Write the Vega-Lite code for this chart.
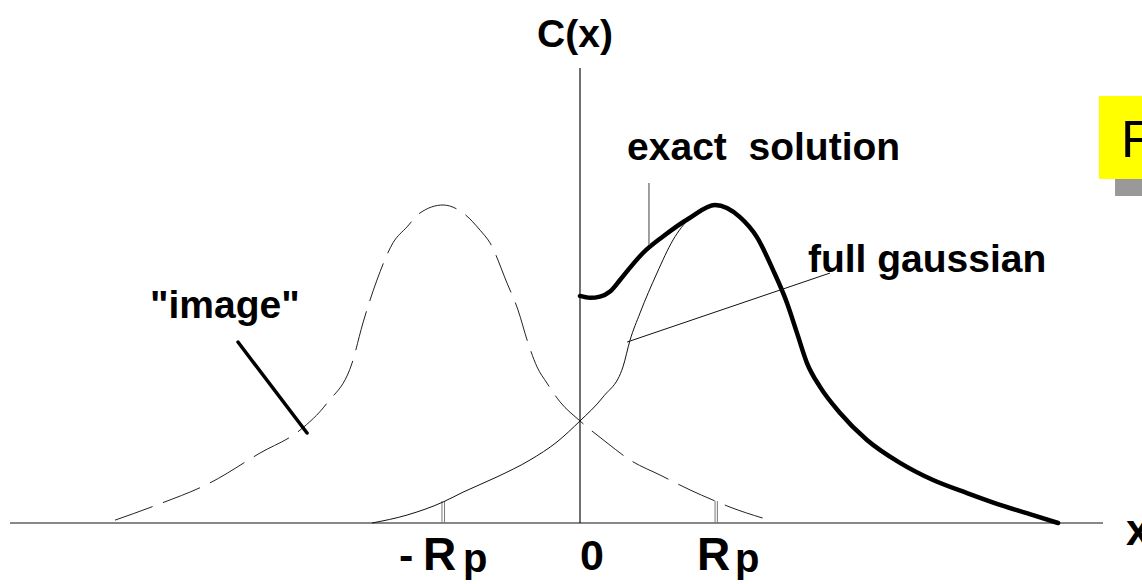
{
  "$schema": "https://vega.github.io/schema/vega-lite/v6.json",
  "width": 1142,
  "height": 584,
  "padding": 0,
  "autosize": {"type": "none"},
  "background": "white",
  "config": {"view": {"stroke": null}},
  "datasets": {
    "imageGauss": [
      {"x": -3.419, "y": 0.009}, {"x": -3.110, "y": 0.057}, {"x": -2.721, "y": 0.126},
      {"x": -2.353, "y": 0.220}, {"x": -2.059, "y": 0.292}, {"x": -1.860, "y": 0.377},
      {"x": -1.676, "y": 0.503}, {"x": -1.596, "y": 0.629}, {"x": -1.493, "y": 0.764},
      {"x": -1.375, "y": 0.881}, {"x": -1.272, "y": 0.931}, {"x": -1.176, "y": 0.975},
      {"x": -1.007, "y": 1.000}, {"x": -0.860, "y": 0.975}, {"x": -0.735, "y": 0.921},
      {"x": -0.662, "y": 0.881}, {"x": -0.537, "y": 0.755}, {"x": -0.456, "y": 0.670},
      {"x": -0.382, "y": 0.566}, {"x": -0.316, "y": 0.491}, {"x": -0.243, "y": 0.440},
      {"x": -0.147, "y": 0.381}, {"x": 0.000, "y": 0.321}, {"x": 0.199, "y": 0.252},
      {"x": 0.368, "y": 0.198}, {"x": 0.588, "y": 0.151}, {"x": 0.809, "y": 0.104},
      {"x": 0.978, "y": 0.072}, {"x": 1.103, "y": 0.050}, {"x": 1.419, "y": 0.006}
    ],
    "fullGauss": [
      {"x": -1.529, "y": 0.000}, {"x": -1.272, "y": 0.025}, {"x": -1.007, "y": 0.066},
      {"x": -0.860, "y": 0.097}, {"x": -0.610, "y": 0.145}, {"x": -0.368, "y": 0.198},
      {"x": -0.169, "y": 0.255}, {"x": 0.000, "y": 0.321}, {"x": 0.169, "y": 0.396},
      {"x": 0.316, "y": 0.491}, {"x": 0.368, "y": 0.575}, {"x": 0.441, "y": 0.660},
      {"x": 0.566, "y": 0.786}, {"x": 0.684, "y": 0.890}, {"x": 0.809, "y": 0.959},
      {"x": 0.904, "y": 0.984}
    ],
    "exact": [
      {"x": 0.000, "y": 0.714}, {"x": 0.074, "y": 0.708}, {"x": 0.147, "y": 0.712},
      {"x": 0.221, "y": 0.728}, {"x": 0.294, "y": 0.764}, {"x": 0.368, "y": 0.803},
      {"x": 0.463, "y": 0.849}, {"x": 0.610, "y": 0.901}, {"x": 0.809, "y": 0.960},
      {"x": 0.993, "y": 1.000}, {"x": 1.176, "y": 0.962}, {"x": 1.301, "y": 0.899},
      {"x": 1.419, "y": 0.796}, {"x": 1.522, "y": 0.692}, {"x": 1.596, "y": 0.597},
      {"x": 1.669, "y": 0.503}, {"x": 1.765, "y": 0.428}, {"x": 1.912, "y": 0.346},
      {"x": 2.110, "y": 0.261}, {"x": 2.353, "y": 0.189}, {"x": 2.596, "y": 0.135},
      {"x": 2.846, "y": 0.094}, {"x": 3.088, "y": 0.057}, {"x": 3.331, "y": 0.025},
      {"x": 3.515, "y": 0.000}
    ]
  },
  "encoding": {
    "x": {"field": "x", "type": "quantitative", "axis": null,
          "scale": {"domain": [-4.26471, 4.13235], "nice": false, "zero": false}},
    "y": {"field": "y", "type": "quantitative", "axis": null,
          "scale": {"domain": [-0.19182, 1.64465], "nice": false, "zero": false}}
  },
  "layer": [
    {
      "data": {"values": [{"x": 3.934, "x2": 4.2, "y": 1.29, "y2": 1.028}]},
      "mark": {"type": "rect", "color": "#999999"},
      "encoding": {"x2": {"field": "x2"}, "y2": {"field": "y2"}}
    },
    {
      "data": {"values": [{"x": 3.816, "x2": 4.2, "y": 1.343, "y2": 1.082}]},
      "mark": {"type": "rect", "color": "#ffff00"},
      "encoding": {"x2": {"field": "x2"}, "y2": {"field": "y2"}}
    },
    {
      "data": {"values": [
        {"x": -4.191, "y": 0, "x2": 3.846, "y2": 0},
        {"x": 0, "y": 0, "x2": 0, "y2": 1.431}
      ]},
      "mark": {"type": "rule", "color": "#111111", "strokeWidth": 1.2},
      "encoding": {"x2": {"field": "x2"}, "y2": {"field": "y2"}}
    },
    {
      "data": {"values": [
        {"x": -1.015, "y": 0, "y2": 0.069},
        {"x": -0.996, "y": 0, "y2": 0.069},
        {"x": 0.993, "y": 0, "y2": 0.069},
        {"x": 1.010, "y": 0, "y2": 0.069}
      ]},
      "mark": {"type": "rule", "color": "#777777", "strokeWidth": 1},
      "encoding": {"y2": {"field": "y2"}}
    },
    {
      "data": {"name": "imageGauss"},
      "mark": {"type": "line", "interpolate": "monotone", "color": "#222222",
               "strokeWidth": 1, "strokeDash": [40, 11]}
    },
    {
      "data": {"name": "fullGauss"},
      "mark": {"type": "line", "interpolate": "monotone", "color": "#111111", "strokeWidth": 1}
    },
    {
      "data": {"name": "exact"},
      "mark": {"type": "line", "interpolate": "monotone", "color": "#000000",
               "strokeWidth": 4.5, "strokeCap": "round", "strokeJoin": "round"}
    },
    {
      "data": {"values": [{"x": 0.507, "y": 0.874, "x2": 0.507, "y2": 1.069}]},
      "mark": {"type": "rule", "color": "#808080", "strokeWidth": 1.5},
      "encoding": {"x2": {"field": "x2"}, "y2": {"field": "y2"}}
    },
    {
      "data": {"values": [{"x": 0.346, "y": 0.569, "x2": 1.838, "y2": 0.786}]},
      "mark": {"type": "rule", "color": "#111111", "strokeWidth": 1},
      "encoding": {"x2": {"field": "x2"}, "y2": {"field": "y2"}}
    },
    {
      "data": {"values": [{"x": -2.515, "y": 0.569, "x2": -2.007, "y2": 0.283}]},
      "mark": {"type": "rule", "color": "#000000", "strokeWidth": 3.5, "strokeCap": "round"},
      "encoding": {"x2": {"field": "x2"}, "y2": {"field": "y2"}}
    },
    {
      "data": {"values": [
        {"x": 0.346, "y": 1.142, "label": "exact\u00a0 solution"},
        {"x": 1.676, "y": 0.789, "label": "full gaussian"},
        {"x": -3.162, "y": 0.645, "label": "\"image\""}
      ]},
      "mark": {"type": "text", "align": "left", "baseline": "alphabetic",
               "font": "Liberation Sans", "fontWeight": "bold", "fontSize": 39, "color": "#000000"},
      "encoding": {"text": {"field": "label"}}
    },
    {
      "data": {"values": [{"x": -0.037, "y": 1.497, "label": "C(x)"}]},
      "mark": {"type": "text", "align": "center", "baseline": "alphabetic",
               "font": "Liberation Sans", "fontWeight": "bold", "fontSize": 39, "color": "#000000"},
      "encoding": {"text": {"field": "label"}}
    },
    {
      "data": {"values": [
        {"x": -1.279, "y": -0.148, "label": "-"},
        {"x": 0.088, "y": -0.148, "label": "0"}
      ]},
      "mark": {"type": "text", "align": "center", "baseline": "alphabetic",
               "font": "Liberation Sans", "fontWeight": "bold", "fontSize": 43, "color": "#000000"},
      "encoding": {"text": {"field": "label"}}
    },
    {
      "data": {"values": [
        {"x": -1.154, "y": -0.148, "label": "R"},
        {"x": 0.860, "y": -0.148, "label": "R"}
      ]},
      "mark": {"type": "text", "align": "left", "baseline": "alphabetic",
               "font": "Liberation Sans", "fontWeight": "bold", "fontSize": 46, "color": "#000000"},
      "encoding": {"text": {"field": "label"}}
    },
    {
      "data": {"values": [
        {"x": -0.860, "y": -0.154, "label": "p"},
        {"x": 1.140, "y": -0.154, "label": "p"}
      ]},
      "mark": {"type": "text", "align": "left", "baseline": "alphabetic",
               "font": "Liberation Sans", "fontWeight": "bold", "fontSize": 40, "color": "#000000"},
      "encoding": {"text": {"field": "label"}}
    },
    {
      "data": {"values": [{"x": 4.015, "y": -0.069, "label": "x"}]},
      "mark": {"type": "text", "align": "left", "baseline": "alphabetic",
               "font": "Liberation Sans", "fontWeight": "bold", "fontSize": 44, "color": "#000000"},
      "encoding": {"text": {"field": "label"}}
    },
    {
      "data": {"values": [{"x": 3.978, "y": 1.151, "label": "F"}]},
      "mark": {"type": "text", "align": "left", "baseline": "alphabetic",
               "font": "Liberation Sans", "fontSize": 52, "color": "#000000"},
      "encoding": {"text": {"field": "label"}}
    }
  ]
}
